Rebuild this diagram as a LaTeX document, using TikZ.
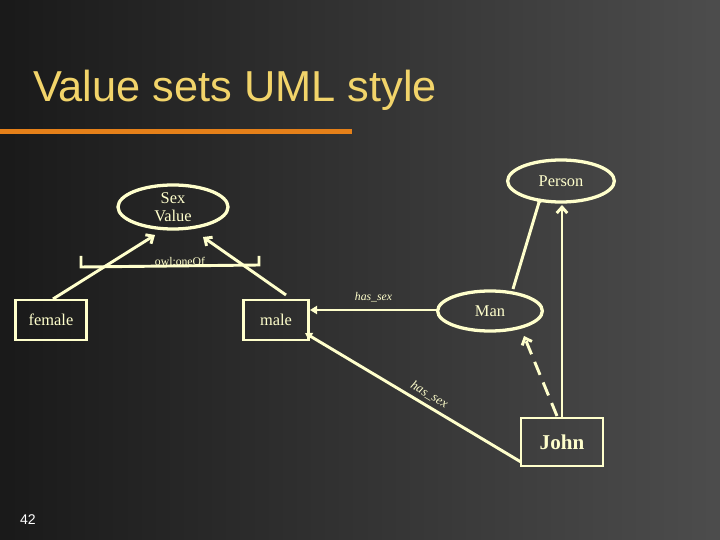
\documentclass[tikz,border=0pt]{standalone}
\usepackage{fontspec}
\setmainfont{Liberation Serif}
\newfontfamily\titlefont{Liberation Sans}
\usetikzlibrary{shapes.geometric,arrows.meta}
\definecolor{cream}{HTML}{FFFFCC}
\definecolor{ttl}{HTML}{F2D46A}
\begin{document}
\begin{tikzpicture}[x=0.03cm,y=-0.03cm,
  ln/.style={draw=cream,line width=2.5pt},
  ell/.style={ellipse,draw=cream,line width=2.8pt,text=cream,inner sep=0pt},
  box/.style={rectangle,draw=cream,line width=2.4pt,text=cream,inner sep=0pt},
  openarr/.style={-{Straight Barb[length=5pt,width=9pt,line width=2.5pt]}},
  fillarr/.style={-{Triangle[length=6pt,width=7pt]}},
  dotstart/.style={{Circle[length=4pt]}-}]
\shade[left color=black!90,right color=black!70] (0,0) rectangle (720,540);
\node[text=ttl,anchor=west,font=\titlefont\fontsize{37}{37}\selectfont] (title) at (29,90) {Value sets UML style};
\fill[orange!60!brown] (0,129) rectangle (352,134);
\node[text=white,font=\titlefont\fontsize{12}{12}\selectfont] (num) at (28,520) {42};
\node[ell,minimum width=3.3cm,minimum height=1.32cm,align=center,font=\fontsize{14}{15}\selectfont] (sv) at (173,207) {Sex\\Value};
\node[ell,minimum width=3.2cm,minimum height=1.26cm,font=\fontsize{14}{14}\selectfont] (person) at (561,181) {Person};
\node[ell,minimum width=3.14cm,minimum height=1.2cm,font=\fontsize{14}{14}\selectfont] (man) at (490,311) {Man};
\node[box,minimum width=2.13cm,minimum height=1.2cm,font=\fontsize{14}{14}\selectfont] (female) at (51,320) {female};
\node[box,minimum width=1.95cm,minimum height=1.2cm,font=\fontsize{14}{14}\selectfont] (male) at (276,320) {male};
\node[box,minimum width=2.46cm,minimum height=1.44cm,font=\bfseries\fontsize{18}{18}\selectfont] (john) at (562,442) {John};
\coordinate (f1) at (53,299); \coordinate (s1) at (155,235);
\coordinate (m1) at (286,295); \coordinate (s2) at (203,237);
\draw[ln,openarr] (f1) -- (s1);
\draw[ln,openarr] (m1) -- (s2);
\coordinate (b1) at (81,256); \coordinate (b2) at (81,267);
\coordinate (b3) at (259,265); \coordinate (b4) at (259,256);
\draw[ln] (b1) -- (b2) -- (b3) -- (b4);
\node[text=cream,font=\fontsize{10}{10}\selectfont] (oneof) at (180,261) {owl:oneOf};
\coordinate (mh) at (437,310); \coordinate (maleR) at (310,310);
\draw[ln,dotstart,fillarr] (mh) -- (maleR) node[midway,above=2pt,text=cream,font=\itshape\fontsize{10}{10}\selectfont] {has\_sex};
\coordinate (jl) at (521,462); \coordinate (maleB) at (305,333);
\draw[ln,dotstart,fillarr] (jl) -- (maleB) node[pos=0.45,sloped,above=0pt,text=cream,font=\itshape\fontsize{11}{11}\selectfont] {has\_sex};
\coordinate (mt) at (513,289); \coordinate (pb) at (540,199);
\draw[ln,-{Circle[length=4pt]}] (mt) -- (pb);
\coordinate (jt) at (562,418); \coordinate (pb2) at (562,205);
\draw[ln,openarr] (jt) -- (pb2);
\coordinate (jt2) at (557,416); \coordinate (mb) at (524,336);
\draw[ln,openarr,dash pattern=on 12pt off 7pt] (jt2) -- (mb);
\end{tikzpicture}
\end{document}
